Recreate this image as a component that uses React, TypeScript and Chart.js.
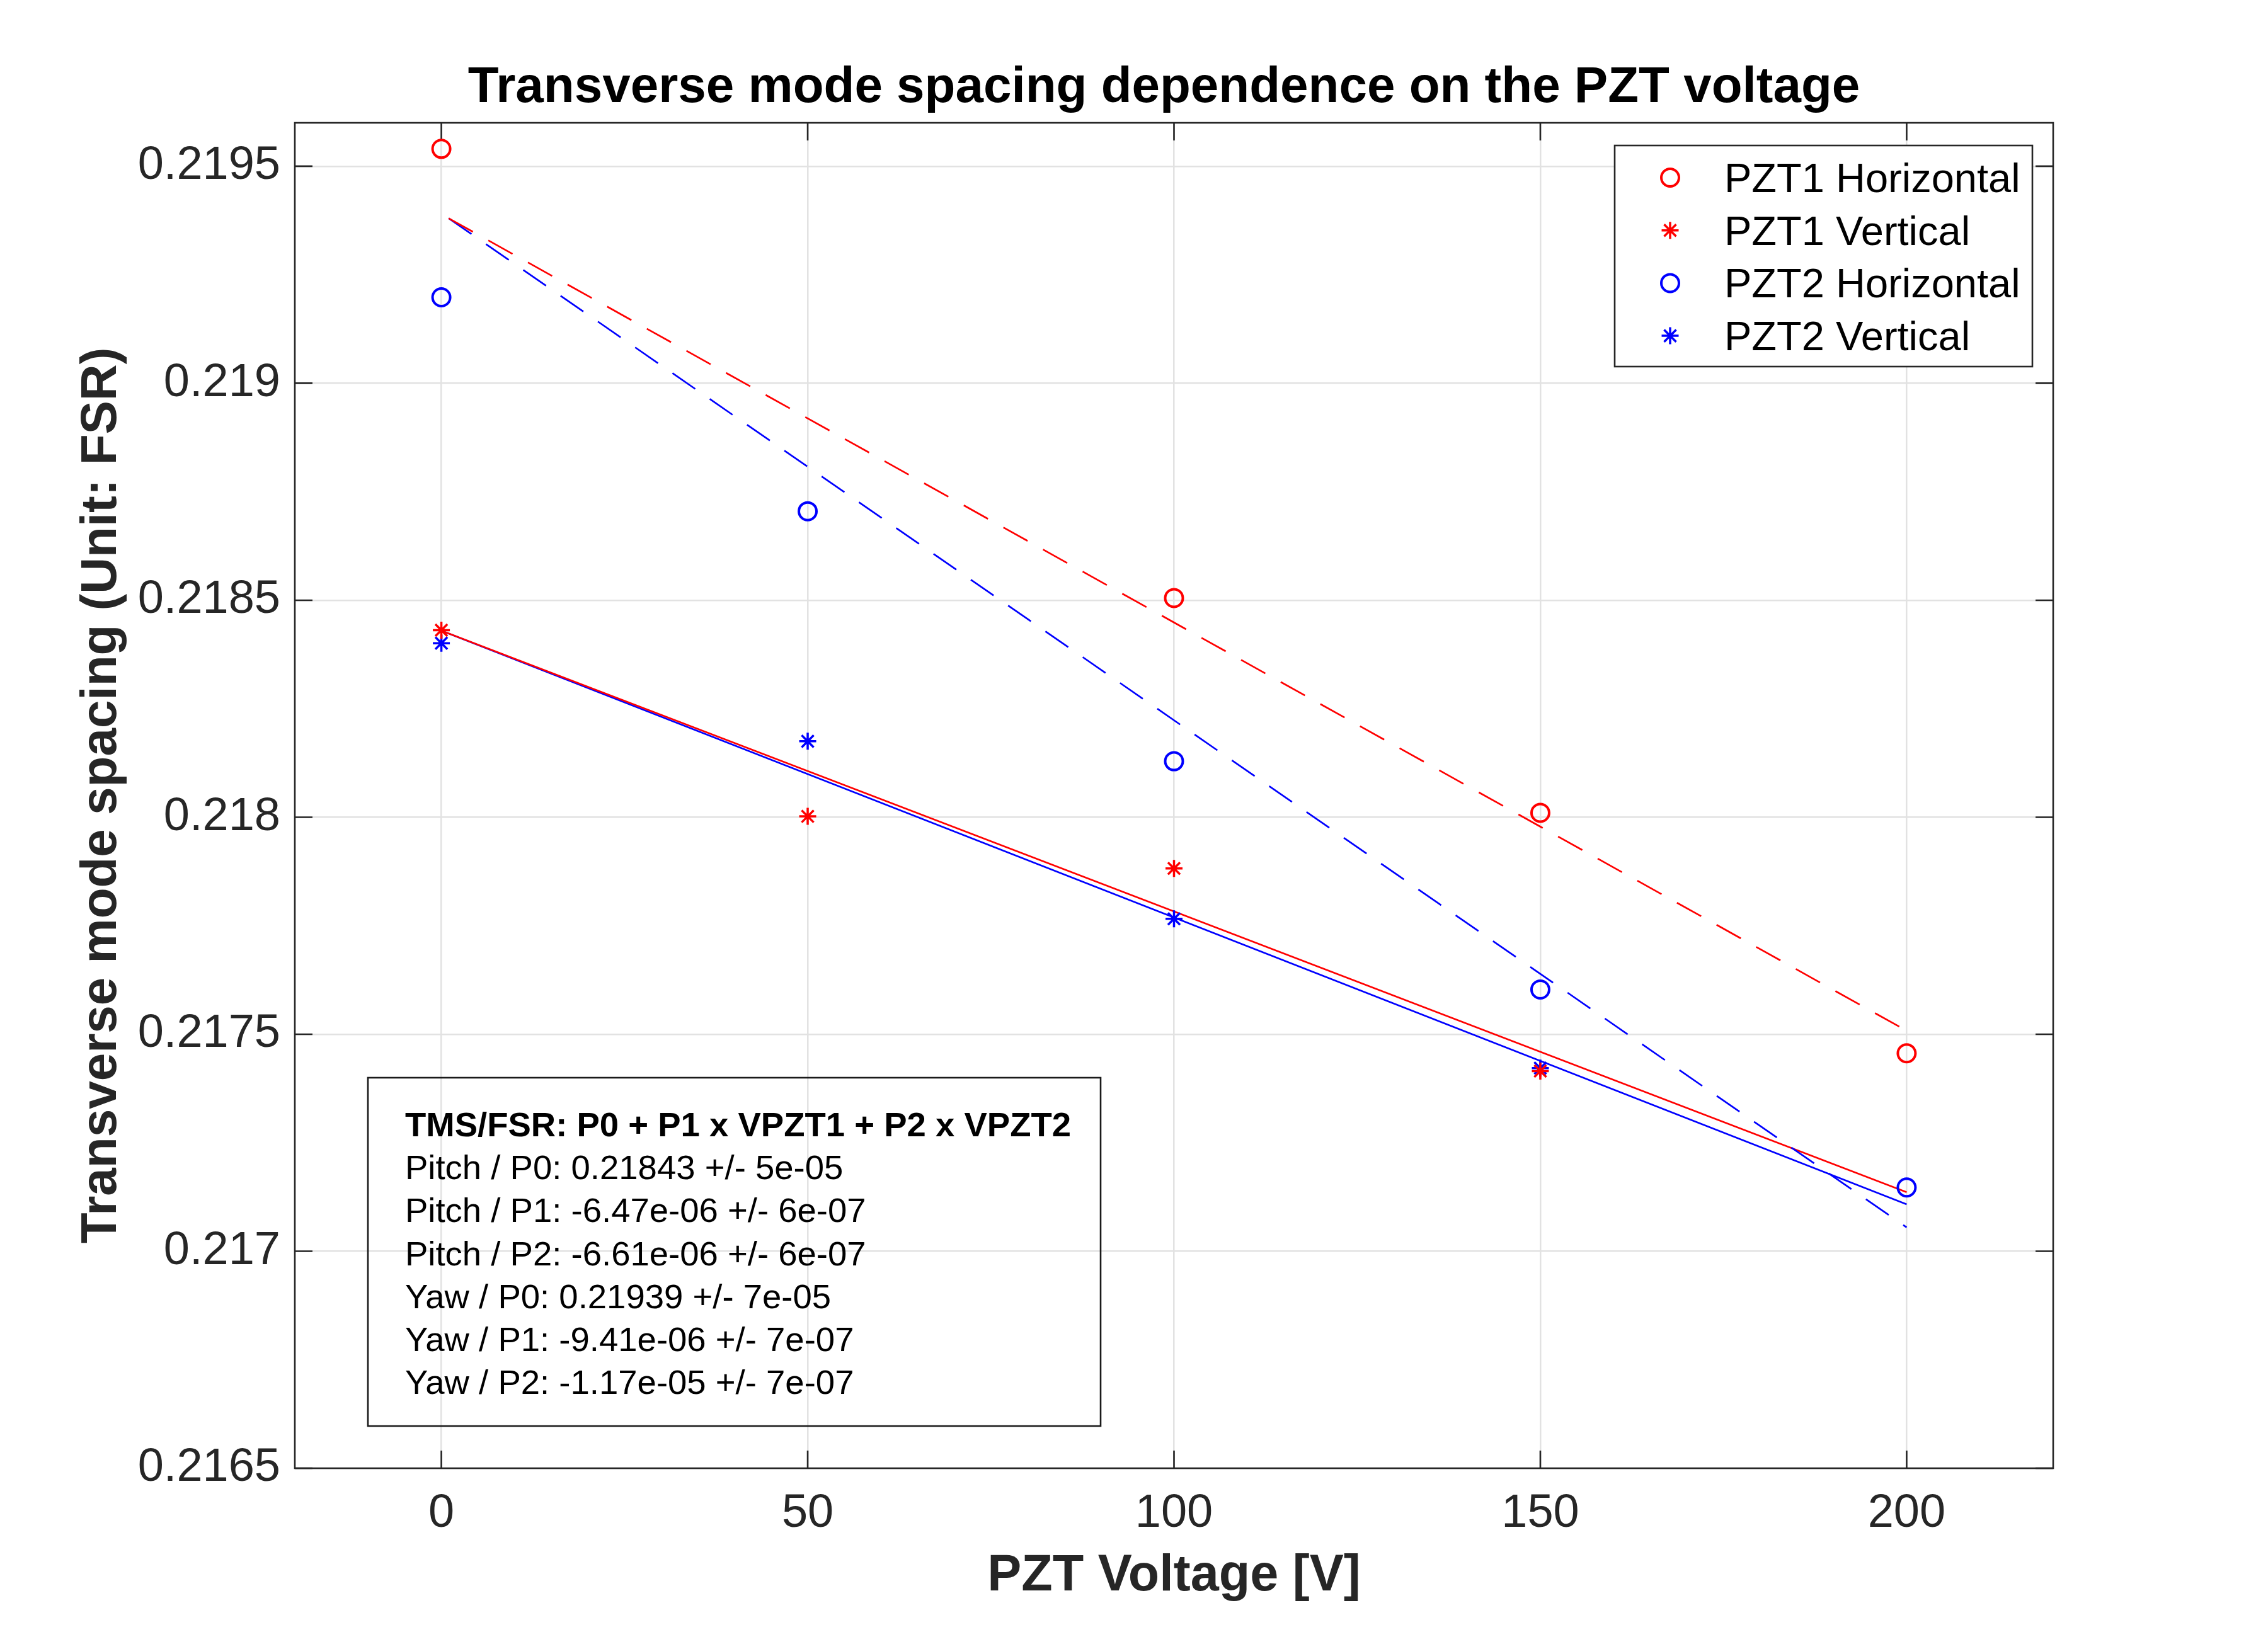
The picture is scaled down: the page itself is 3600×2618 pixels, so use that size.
import React, { useEffect, useRef } from 'react';
import { Chart, registerables } from 'chart.js';

Chart.register(...registerables);

// ---------- data ----------
const TITLE = 'Transverse mode spacing dependence on the PZT voltage';
const X_TITLE = 'PZT Voltage [V]';
const Y_TITLE = 'Transverse mode spacing (Unit: FSR)';

const X_MIN = -20;
const X_MAX = 220;
const Y_MIN = 0.2165;
const Y_MAX = 0.2196;
const X_TICKS = [0, 50, 100, 150, 200];
const X_TICK_LABELS = ['0', '50', '100', '150', '200'];
const Y_TICKS = [0.2165, 0.217, 0.2175, 0.218, 0.2185, 0.219, 0.2195];
const Y_TICK_LABELS = ['0.2165', '0.217', '0.2175', '0.218', '0.2185', '0.219', '0.2195'];

const LEGEND_LABELS = ['PZT1 Horizontal', 'PZT1 Vertical', 'PZT2 Horizontal', 'PZT2 Vertical'];

const PZT1_H_VOLT = [0, 100, 150, 200];
const PZT1_H_TMS = [0.21954, 0.218505, 0.21801, 0.217456];
const PZT1_V_VOLT = [0, 50, 100, 150];
const PZT1_V_TMS = [0.218431, 0.218002, 0.217882, 0.217415];
const PZT2_H_VOLT = [0, 50, 100, 150, 200];
const PZT2_H_TMS = [0.219198, 0.218705, 0.218129, 0.217603, 0.217147];
const PZT2_V_VOLT = [0, 50, 100, 150];
const PZT2_V_TMS = [0.218401, 0.218175, 0.217766, 0.217422];

// fitted lines (end points)
const YAW_FIT_VOLT = [1, 200];
const YAW_FIT_PZT1 = [0.21938, 0.217508];
const YAW_FIT_PZT2 = [0.21938, 0.217055];
const PITCH_FIT_VOLT = [0, 200];
const PITCH_FIT_PZT1 = [0.21843, 0.217136];
const PITCH_FIT_PZT2 = [0.21843, 0.217108];

const NOTE_HEADER = 'TMS/FSR: P0 + P1 x VPZT1 + P2 x VPZT2';
const NOTE_LINES = [
  'Pitch / P0: 0.21843 +/- 5e-05',
  'Pitch / P1: -6.47e-06 +/- 6e-07',
  'Pitch / P2: -6.61e-06 +/- 6e-07',
  'Yaw / P0: 0.21939 +/- 7e-05',
  'Yaw / P1: -9.41e-06 +/- 7e-07',
  'Yaw / P2: -1.17e-05 +/- 7e-07',
];

// ---------- style ----------
const FONT = '"Liberation Sans", Arial, Helvetica, sans-serif';
const RED = '#ff0000';
const BLUE = '#0000ff';
const AXIS_COLOR = '#262626';
const GRID_COLOR = '#e2e2e2';
const TICK_LEN = 28;

const pts = (xs: number[], ys: number[]) => xs.map((x, i) => ({ x, y: ys[i] }));

function drawMarker(ctx: CanvasRenderingContext2D, style: string, color: string, x: number, y: number, r: number, w: number) {
  ctx.save();
  ctx.strokeStyle = color;
  ctx.lineWidth = w;
  ctx.beginPath();
  if (style === 'circle') {
    ctx.arc(x, y, r, 0, Math.PI * 2);
  } else {
    ctx.moveTo(x - r, y); ctx.lineTo(x + r, y);
    ctx.moveTo(x, y - r); ctx.lineTo(x, y + r);
    const d = r * Math.SQRT1_2;
    ctx.moveTo(x - d, y - d); ctx.lineTo(x + d, y + d);
    ctx.moveTo(x - d, y + d); ctx.lineTo(x + d, y - d);
  }
  ctx.stroke();
  ctx.restore();
}

const decorPlugin = {
  id: 'matlabDecor',
  beforeDatasetsDraw(chart: any) {
    const { ctx, chartArea: a, scales } = chart;
    ctx.save();
    ctx.strokeStyle = AXIS_COLOR;
    ctx.lineWidth = 2.6;
    ctx.beginPath();
    for (const v of X_TICKS) {
      const px = scales.x.getPixelForValue(v);
      ctx.moveTo(px, a.bottom); ctx.lineTo(px, a.bottom - TICK_LEN);
      ctx.moveTo(px, a.top); ctx.lineTo(px, a.top + TICK_LEN);
    }
    for (const v of Y_TICKS) {
      const py = scales.y.getPixelForValue(v);
      ctx.moveTo(a.left, py); ctx.lineTo(a.left + TICK_LEN, py);
      ctx.moveTo(a.right, py); ctx.lineTo(a.right - TICK_LEN, py);
    }
    ctx.stroke();
    ctx.strokeRect(a.left, a.top, a.right - a.left, a.bottom - a.top);
    ctx.restore();
  },
  afterDraw(chart: any) {
    const { ctx, chartArea: a } = chart;
    ctx.save();
    // title
    ctx.fillStyle = '#000000';
    ctx.font = `bold 80px ${FONT}`;
    ctx.textAlign = 'center';
    ctx.textBaseline = 'alphabetic';
    ctx.fillText(TITLE, (a.left + a.right) / 2 - 16, a.top - 33);

    // legend
    const lw = 663, lh = 351;
    const lx = a.right - 33 - lw, ly = a.top + 36;
    ctx.fillStyle = '#ffffff';
    ctx.fillRect(lx, ly, lw, lh);
    ctx.strokeStyle = AXIS_COLOR;
    ctx.lineWidth = 2.6;
    ctx.strokeRect(lx, ly, lw, lh);
    ctx.font = `65px ${FONT}`;
    ctx.textAlign = 'left';
    ctx.fillStyle = '#000000';
    const ds = chart.data.datasets;
    for (let i = 0; i < LEGEND_LABELS.length; i++) {
      const cy = ly + 51 + i * 83.7;
      const d = ds[i];
      drawMarker(ctx, d.pointStyle, d.borderColor, lx + 88, cy, d.pointStyle === 'circle' ? 14 : 13.5, d.pointBorderWidth);
      ctx.fillStyle = '#000000';
      ctx.fillText(d.label, lx + 174, cy + 23);
    }

    // note box
    const nw = 1163, nh = 553;
    const nx = a.left + 116, ny = a.bottom - 67 - nh;
    ctx.strokeStyle = '#1a1a1a';
    ctx.lineWidth = 2.6;
    ctx.strokeRect(nx, ny, nw, nh);
    ctx.fillStyle = '#000000';
    ctx.font = `bold 54.5px ${FONT}`;
    ctx.fillText(NOTE_HEADER, nx + 59, ny + 93);
    ctx.font = `54.5px ${FONT}`;
    NOTE_LINES.forEach((t, i) => ctx.fillText(t, nx + 59, ny + 93 + (i + 1) * 68.2));
    ctx.restore();
  },
};

export default function App() {
  const ref = useRef<HTMLCanvasElement | null>(null);
  useEffect(() => {
    if (!ref.current) return;
    const markerDs = (label: string, xs: number[], ys: number[], color: string, style: string) => ({
      type: 'scatter' as const,
      label,
      data: pts(xs, ys),
      borderColor: color,
      backgroundColor: 'rgba(0,0,0,0)',
      pointStyle: style,
      pointRadius: style === 'circle' ? 14 : 13.5,
      pointBorderWidth: style === 'circle' ? 4 : 3.5,
      pointBorderColor: color,
      pointBackgroundColor: 'rgba(0,0,0,0)',
      pointHoverRadius: style === 'circle' ? 14 : 13.5,
      showLine: false,
    });
    const lineDs = (label: string, xs: number[], ys: number[], color: string, dash: number[]) => ({
      type: 'line' as const,
      label,
      data: pts(xs, ys),
      borderColor: color,
      borderWidth: 2.7,
      borderDash: dash,
      pointRadius: 0,
      fill: false,
      showLine: true,
    });
    const chart = new Chart(ref.current, {
      type: 'scatter',
      data: {
        datasets: [
          markerDs(LEGEND_LABELS[0], PZT1_H_VOLT, PZT1_H_TMS, RED, 'circle'),
          markerDs(LEGEND_LABELS[1], PZT1_V_VOLT, PZT1_V_TMS, RED, 'star'),
          markerDs(LEGEND_LABELS[2], PZT2_H_VOLT, PZT2_H_TMS, BLUE, 'circle'),
          markerDs(LEGEND_LABELS[3], PZT2_V_VOLT, PZT2_V_TMS, BLUE, 'star'),
          lineDs('Yaw fit PZT1', YAW_FIT_VOLT, YAW_FIT_PZT1, RED, [44, 28]),
          lineDs('Yaw fit PZT2', YAW_FIT_VOLT, YAW_FIT_PZT2, BLUE, [44, 28]),
          lineDs('Pitch fit PZT1', PITCH_FIT_VOLT, PITCH_FIT_PZT1, RED, []),
          lineDs('Pitch fit PZT2', PITCH_FIT_VOLT, PITCH_FIT_PZT2, BLUE, []),
        ] as any,
      },
      options: {
        animation: false,
        responsive: false,
        maintainAspectRatio: false,
        devicePixelRatio: 1,
        layout: { padding: { top: 195, right: 341, left: 0, bottom: 0 } },
        plugins: {
          legend: { display: false },
          title: { display: false },
          tooltip: { enabled: false },
        },
        events: [],
        scales: {
          x: {
            type: 'linear',
            min: X_MIN,
            max: X_MAX,
            afterBuildTicks: (s: any) => { s.ticks = X_TICKS.map((v) => ({ value: v })); },
            afterFit: (s: any) => { s.height = 287; },
            ticks: {
              callback: (_v: any, i: number) => X_TICK_LABELS[i],
              color: AXIS_COLOR,
              font: { family: FONT, size: 74 },
              padding: 28,
              maxRotation: 0,
              autoSkip: false,
            },
            grid: { color: GRID_COLOR, lineWidth: 2.5, drawTicks: false },
            border: { display: false },
            title: {
              display: true,
              text: X_TITLE,
              color: AXIS_COLOR,
              font: { family: FONT, size: 81, weight: 'bold' },
              padding: { top: 0, bottom: 67 },
            },
          },
          y: {
            type: 'linear',
            min: Y_MIN,
            max: Y_MAX,
            afterBuildTicks: (s: any) => { s.ticks = Y_TICKS.map((v) => ({ value: v })); },
            afterFit: (s: any) => { s.width = 468; },
            ticks: {
              callback: (_v: any, i: number) => Y_TICK_LABELS[i],
              color: AXIS_COLOR,
              font: { family: FONT, size: 74 },
              padding: 23,
              autoSkip: false,
            },
            grid: { color: GRID_COLOR, lineWidth: 2.5, drawTicks: false },
            border: { display: false },
            title: {
              display: true,
              text: Y_TITLE,
              color: AXIS_COLOR,
              font: { family: FONT, size: 80, weight: 'bold' },
              padding: { top: 114, bottom: 0 },
            },
          },
        },
      } as any,
      plugins: [decorPlugin],
    });
    return () => chart.destroy();
  }, []);
  return (
    <div style={{ position: 'fixed', left: 0, top: 0, width: 3600, height: 2618, background: '#ffffff' }}>
      <canvas ref={ref} width={3600} height={2618} style={{ display: 'block', width: 3600, height: 2618 }} />
    </div>
  );
}
